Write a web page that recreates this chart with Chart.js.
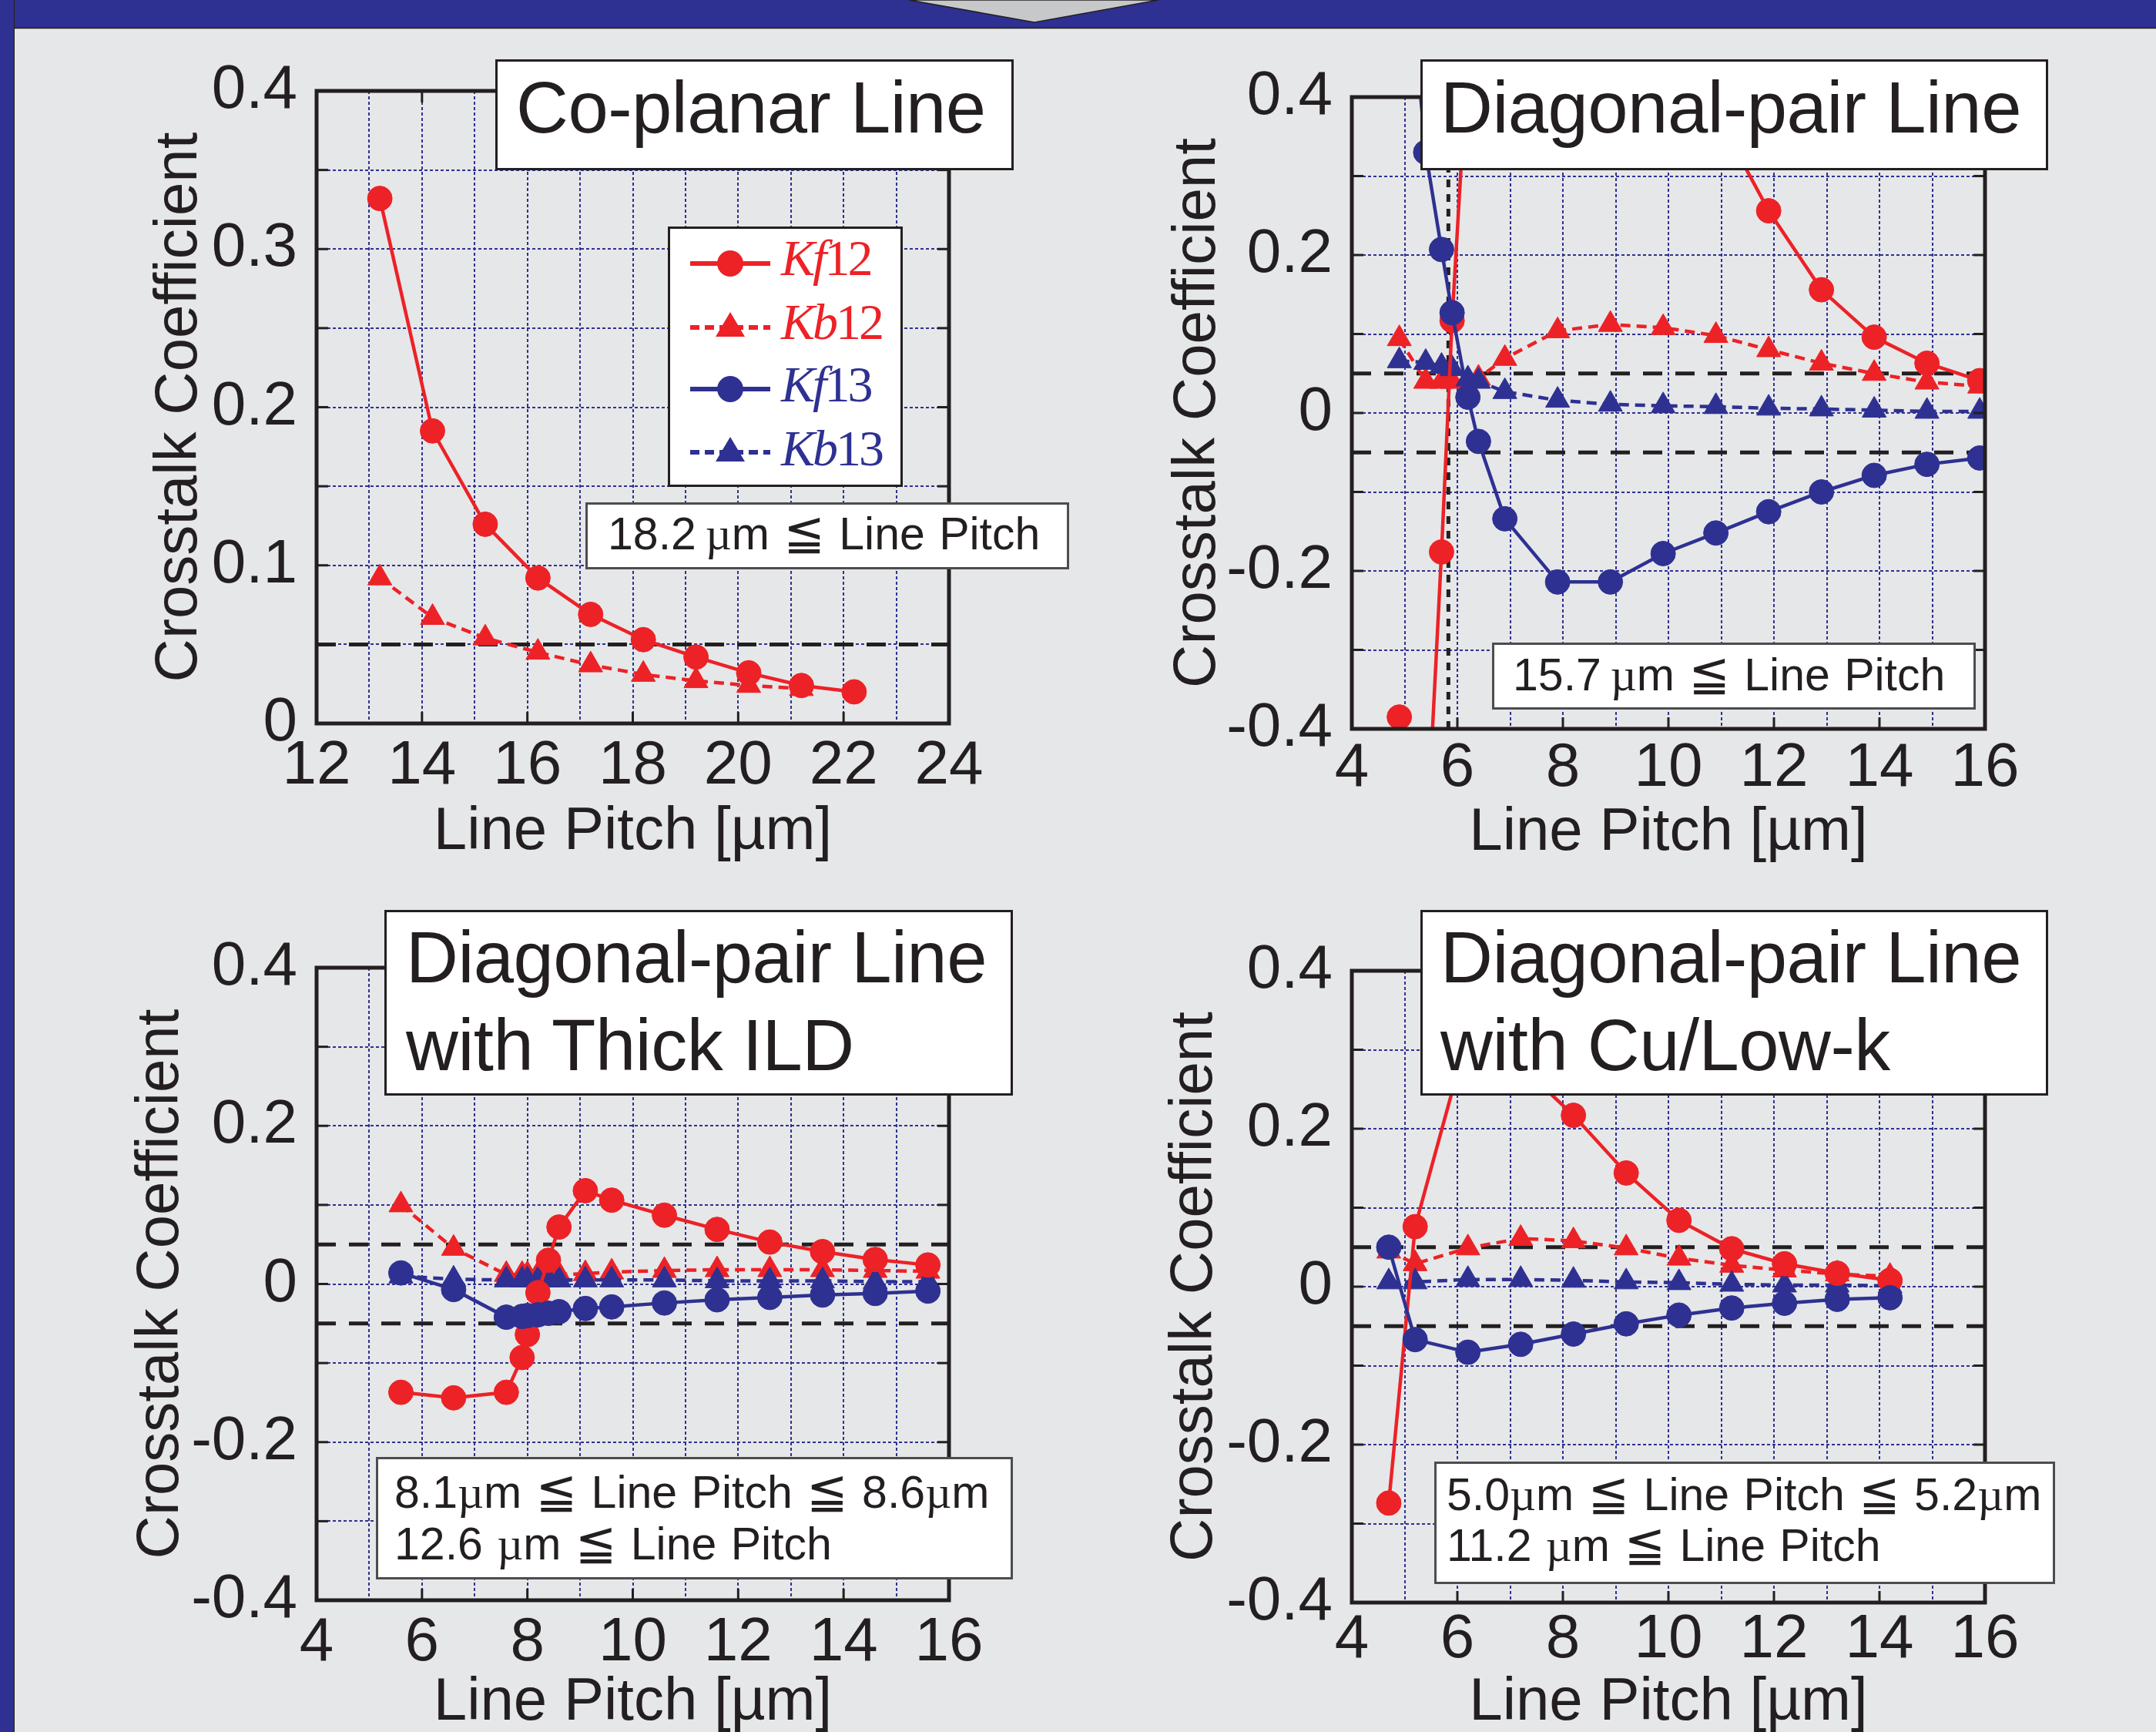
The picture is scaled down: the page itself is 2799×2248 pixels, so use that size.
<!DOCTYPE html>
<html>
<head>
<meta charset="utf-8">
<script src="https://cdn.jsdelivr.net/npm/chart.js@4.4.1/dist/chart.umd.min.js"></script>
<style>
  body { margin: 0; width: 2799px; height: 2248px; background: #e6e7e8; position: relative; overflow: hidden;
         font-family: "Liberation Sans", Arial, sans-serif; color: #231f20; }
  canvas { position: absolute; }
  .box { position: absolute; background: #fff; box-sizing: border-box; }
  .ttl { border: 3px solid #231f20; }
  .note { border: 3px solid #4d4d4f; }
  .txt { position: absolute; white-space: nowrap; line-height: 1; }
  .big { font-size: 94px; letter-spacing: -0.5px; }
  .mid { font-size: 59px; word-spacing: 2px; }
  .mu { font-family: "Liberation Serif", serif; line-height: 0; }
  .le { font-family: "DejaVu Sans", sans-serif; font-size: 64px; line-height: 0; }
  .leg { font-family: "Liberation Serif", serif; font-size: 66px; letter-spacing: -3px; }
</style>
</head>
<body>

<svg style="position:absolute;left:0;top:0" width="2799" height="40">
  <rect x="0" y="0" width="2799" height="36" fill="#2e3192"/>
  <line x1="0" y1="36.5" x2="2799" y2="36.5" stroke="#231f20" stroke-width="1.5"/>
  <polygon points="1180,0 1343,29 1504,0" fill="#c7c8ca" stroke="#231f20" stroke-width="1.5"/>
</svg>
<div style="position:absolute;left:0;top:0;width:18px;height:2248px;background:#2e3192;border-right:1.5px solid #231f20"></div>

<canvas id="c1"></canvas>
<canvas id="c2"></canvas>
<canvas id="c3"></canvas>
<canvas id="c4"></canvas>

<!-- panel 1 -->
<div class="box ttl" style="left:643px;top:77px;width:673px;height:144px"></div>
<div class="txt big" style="left:670px;top:93px">Co-planar Line</div>
<div class="box ttl" style="left:867px;top:294px;width:305px;height:338px"></div>
<svg style="position:absolute;left:867px;top:294px" width="305" height="338">
  <line x1="29" y1="48" x2="133" y2="48" stroke="#ec2227" stroke-width="6"/>
  <circle cx="81" cy="48" r="17" fill="#ec2227"/>
  <line x1="29" y1="131" x2="133" y2="131" stroke="#ec2227" stroke-width="6" stroke-dasharray="12 7"/>
  <polygon points="81,111 100,143 62,143" fill="#ec2227"/>
  <line x1="29" y1="211" x2="133" y2="211" stroke="#2e3192" stroke-width="6"/>
  <circle cx="81" cy="211" r="17" fill="#2e3192"/>
  <line x1="29" y1="293" x2="133" y2="293" stroke="#2e3192" stroke-width="6" stroke-dasharray="12 7"/>
  <polygon points="81,273 100,305 62,305" fill="#2e3192"/>
</svg>
<div class="txt leg" style="left:1014px;top:302px;color:#ec2227"><i>K</i><i>f</i>12</div>
<div class="txt leg" style="left:1014px;top:385px;color:#ec2227"><i>K</i><i>b</i>12</div>
<div class="txt leg" style="left:1014px;top:466px;color:#2e3192"><i>K</i><i>f</i>13</div>
<div class="txt leg" style="left:1014px;top:549px;color:#2e3192"><i>K</i><i>b</i>13</div>
<div class="box note" style="left:760px;top:652px;width:628px;height:87px"></div>
<div class="txt mid" style="left:789px;top:664px">18.2&#8201;<span class="mu">µ</span>m <span class="le">≦</span> Line Pitch</div>

<!-- panel 2 -->
<div class="box ttl" style="left:1844px;top:77px;width:815px;height:144px"></div>
<div class="txt big" style="left:1870px;top:93px">Diagonal-pair Line</div>
<div class="box note" style="left:1937px;top:834px;width:628px;height:87px"></div>
<div class="txt mid" style="left:1964px;top:847px">15.7&#8201;<span class="mu">µ</span>m <span class="le">≦</span> Line Pitch</div>

<!-- panel 3 -->
<div class="box ttl" style="left:499px;top:1181px;width:816px;height:241px"></div>
<div class="txt big" style="left:527px;top:1196px">Diagonal-pair Line</div>
<div class="txt big" style="left:527px;top:1310px">with Thick ILD</div>
<div class="box note" style="left:488px;top:1891px;width:827px;height:159px"></div>
<div class="txt mid" style="left:512px;top:1908px">8.1<span class="mu">µ</span>m <span class="le">≦</span> Line Pitch <span class="le">≦</span> 8.6<span class="mu">µ</span>m</div>
<div class="txt mid" style="left:512px;top:1975px">12.6 <span class="mu">µ</span>m <span class="le">≦</span> Line Pitch</div>

<!-- panel 4 -->
<div class="box ttl" style="left:1844px;top:1181px;width:815px;height:241px"></div>
<div class="txt big" style="left:1870px;top:1196px">Diagonal-pair Line</div>
<div class="txt big" style="left:1870px;top:1310px">with Cu/Low-k</div>
<div class="box note" style="left:1862px;top:1897px;width:806px;height:159px"></div>
<div class="txt mid" style="left:1878px;top:1911px">5.0<span class="mu">µ</span>m <span class="le">≦</span> Line Pitch <span class="le">≦</span> 5.2<span class="mu">µ</span>m</div>
<div class="txt mid" style="left:1878px;top:1977px">11.2 <span class="mu">µ</span>m <span class="le">≦</span> Line Pitch</div>

<script>
const red = '#ec2227';
const blue = '#2e3192';
const ink = '#231f20';

// Co-planar line
const p1Pitch = [13.2, 14.2, 15.2, 16.2, 17.2, 18.2, 19.2, 20.2, 21.2, 22.2];
const p1Kf12 = [0.332, 0.185, 0.126, 0.092, 0.069, 0.053, 0.042, 0.032, 0.024, 0.020];
const p1Kb12 = [0.092, 0.067, 0.054, 0.045, 0.037, 0.031, 0.027, 0.024, 0.022, null];

// Diagonal-pair line (values beyond 0.4 / -0.4 run off the plot)
const p2Pitch = [4.9, 5.4, 5.7, 5.9, 6.2, 6.4, 6.9, 7.9, 8.9, 9.9, 10.9, 11.9, 12.9, 13.9, 14.9, 15.9];
const p2Kf12 = [-0.385, -0.57, -0.176, 0.117, 0.46, null, null, null, null, null, 0.38, 0.256, 0.156, 0.096, 0.063, 0.041];
const p2Kb12 = [0.094, 0.040, 0.040, 0.040, null, 0.044, 0.069, 0.104, 0.112, 0.108, 0.098, 0.080, 0.063, 0.050, 0.039, 0.034];
const p2Kf13 = [0.70, 0.33, 0.207, 0.127, 0.020, -0.036, -0.134, -0.214, -0.214, -0.178, -0.152, -0.125, -0.100, -0.079, -0.065, -0.057];
const p2Kb13 = [0.066, 0.064, 0.059, 0.056, 0.043, 0.040, 0.027, 0.016, 0.011, 0.009, 0.008, 0.006, 0.005, 0.0035, 0.002, 0.002];
const p2Boundary = 5.83;

// Diagonal-pair line with thick ILD
const p3Pitch = [5.6, 6.6, 7.6, 7.9, 8.0, 8.2, 8.4, 8.6, 9.1, 9.6, 10.6, 11.6, 12.6, 13.6, 14.6, 15.6];
const p3Kf12 = [-0.137, -0.144, -0.137, -0.093, -0.064, -0.011, 0.030, 0.072, 0.118, 0.106, 0.087, 0.069, 0.053, 0.041, 0.031, 0.024];
const p3Kb12 = [0.100, 0.045, 0.012, 0.012, 0.012, 0.012, 0.012, 0.012, 0.013, 0.015, 0.017, 0.018, 0.018, 0.018, 0.017, 0.016];
const p3Kf13 = [0.014, -0.007, -0.042, -0.041, -0.040, -0.039, -0.037, -0.035, -0.031, -0.029, -0.024, -0.020, -0.017, -0.014, -0.012, -0.009];
const p3Kb13 = [0.010, 0.006, 0.005, 0.005, 0.005, 0.005, 0.005, 0.005, 0.005, 0.005, 0.005, 0.004, 0.004, 0.004, 0.003, 0.003];

// Diagonal-pair line with Cu/Low-k
const p4Pitch = [4.7, 5.2, 6.2, 7.2, 8.2, 9.2, 10.2, 11.2, 12.2, 13.2, 14.2];
const p4Kf12 = [-0.274, 0.076, 0.32, 0.28, 0.217, 0.144, 0.084, 0.048, 0.029, 0.017, 0.008];
const p4Kb12 = [0.045, 0.029, 0.049, 0.061, 0.058, 0.049, 0.036, 0.027, 0.021, 0.016, 0.013];
const p4Kf13 = [0.050, -0.067, -0.083, -0.073, -0.060, -0.047, -0.036, -0.027, -0.021, -0.016, -0.014];
const p4Kb13 = [0.006, 0.006, 0.009, 0.009, 0.008, 0.006, 0.005, 0.003, 0.002, 0.002, 0.001];

const limitsP1 = [0.05];
const limits = [0.05, -0.05];

const fontFamily = '"Liberation Sans", Arial, sans-serif';
const padTop = 80;

function series(xs, ys, color, solid, order) {
    return {
        data: xs.map((x, i) => ({ x: x, y: ys[i] })),
        borderColor: color,
        backgroundColor: color,
        pointBackgroundColor: color,
        pointBorderColor: color,
        pointBorderWidth: 1,
        borderWidth: 4.5,
        borderDash: solid ? [] : [13, 8],
        pointStyle: solid ? 'circle' : 'triangle',
        pointRadius: solid ? 16 : 18,
        spanGaps: true,
        order: order
    };
}

function guide(points, dash) {
    return {
        data: points,
        borderColor: ink,
        borderWidth: 5,
        borderDash: dash,
        pointRadius: 0,
        order: 10
    };
}

function hLines(values, xr) {
    return values.map(v => guide([{ x: xr[0], y: v }, { x: xr[1], y: v }], [25, 17]));
}

// frame round the plot and short inward ticks
const framePlugin = {
    id: 'frame',
    afterDatasetsDraw(chart) {
        const { ctx, chartArea: a, scales } = chart;
        ctx.save();
        ctx.strokeStyle = ink;
        ctx.lineWidth = 3;
        const seg = (x1, y1, x2, y2) => { ctx.beginPath(); ctx.moveTo(x1, y1); ctx.lineTo(x2, y2); ctx.stroke(); };
        scales.y.ticks.forEach(t => {
            const y = scales.y.getPixelForValue(t.value);
            seg(a.left, y, a.left + 15, y);
            seg(a.right, y, a.right - 15, y);
        });
        scales.x.ticks.forEach(t => {
            if (t.label === '') return;
            const x = scales.x.getPixelForValue(t.value);
            seg(x, a.bottom, x, a.bottom - 15);
            seg(x, a.top, x, a.top + 15);
        });
        ctx.lineWidth = 5;
        ctx.strokeRect(a.left, a.top, a.right - a.left, a.bottom - a.top);
        ctx.restore();
    }
};

function yLabel(every) {
    return v => {
        const k = Math.round(v * 100);
        if (k % every !== 0) return '';
        return k === 0 ? '0' : String(k / 100);
    };
}

function makePanel(id, geo, xr, yr, yStep, yEvery, datasets) {
    const cv = document.getElementById(id);
    const w = geo.yw + (geo.R - geo.L) + 60;
    const h = padTop + (geo.B - geo.T) + geo.xh;
    cv.width = w;
    cv.height = h;
    cv.style.left = (geo.L - geo.yw) + 'px';
    cv.style.top = (geo.T - padTop) + 'px';
    cv.style.width = w + 'px';
    cv.style.height = h + 'px';
    return new Chart(cv, {
        type: 'line',
        data: { datasets: datasets },
        options: {
            responsive: false,
            animation: false,
            devicePixelRatio: 1,
            events: [],
            layout: { padding: { top: padTop, right: 60, left: 0, bottom: 0 } },
            plugins: { legend: { display: false }, tooltip: { enabled: false } },
            scales: {
                x: {
                    type: 'linear', min: xr[0], max: xr[1],
                    afterFit: s => { s.height = geo.xh; },
                    ticks: {
                        stepSize: 1, autoSkip: false, maxRotation: 0, padding: geo.tp,
                        color: ink, font: { family: fontFamily, size: 80 },
                        callback: v => (v % 2 === 0 ? String(v) : '')
                    },
                    grid: { color: blue, lineWidth: 2, drawTicks: false },
                    border: { display: false, dash: [4, 3] },
                    title: { display: true, text: 'Line Pitch [µm]', color: ink, padding: 0,
                             font: { family: fontFamily, size: 78 } }
                },
                y: {
                    type: 'linear', min: yr[0], max: yr[1],
                    afterFit: s => { s.width = geo.yw; },
                    ticks: {
                        stepSize: yStep, autoSkip: false, padding: 25,
                        color: ink, font: { family: fontFamily, size: 80 },
                        callback: yLabel(yEvery)
                    },
                    grid: { color: blue, lineWidth: 2, drawTicks: false },
                    border: { display: false, dash: [4, 3] },
                    title: { display: true, text: 'Crosstalk Coefficient', color: ink, padding: 0,
                             font: { family: fontFamily, size: 78 } }
                }
            }
        },
        plugins: [framePlugin]
    });
}

const xr1 = [12, 24];
const xr = [4, 16];
const yr1 = [0, 0.4];
const yr = [-0.4, 0.4];

makePanel('c1', { L: 411, T: 118, R: 1232, B: 939, yw: 224, xh: 188, tp: 8 }, xr1, yr1, 0.05, 10, [
    series(p1Pitch, p1Kf12, red, true, 2),
    series(p1Pitch, p1Kb12, red, false, 4),
    ...hLines(limitsP1, xr1)
]);

makePanel('c2', { L: 1755, T: 126, R: 2577, B: 946, yw: 246, xh: 182, tp: 4 }, xr, yr, 0.1, 20, [
    series(p2Pitch, p2Kf13, blue, true, 1),
    series(p2Pitch, p2Kf12, red, true, 2),
    series(p2Pitch, p2Kb13, blue, false, 3),
    series(p2Pitch, p2Kb12, red, false, 4),
    ...hLines(limits, xr),
    guide([{ x: p2Boundary, y: yr[0] }, { x: p2Boundary, y: yr[1] }], [10, 9])
]);

makePanel('c3', { L: 411, T: 1256, R: 1232, B: 2077, yw: 248, xh: 180, tp: 8 }, xr, yr, 0.1, 20, [
    series(p3Pitch, p3Kf13, blue, true, 1),
    series(p3Pitch, p3Kf12, red, true, 2),
    series(p3Pitch, p3Kb13, blue, false, 3),
    series(p3Pitch, p3Kb12, red, false, 4),
    ...hLines(limits, xr)
]);

makePanel('c4', { L: 1755, T: 1260, R: 2577, B: 2080, yw: 250, xh: 177, tp: 1 }, xr, yr, 0.1, 20, [
    series(p4Pitch, p4Kf13, blue, true, 1),
    series(p4Pitch, p4Kf12, red, true, 2),
    series(p4Pitch, p4Kb13, blue, false, 3),
    series(p4Pitch, p4Kb12, red, false, 4),
    ...hLines(limits, xr)
]);
</script>
</body>
</html>
